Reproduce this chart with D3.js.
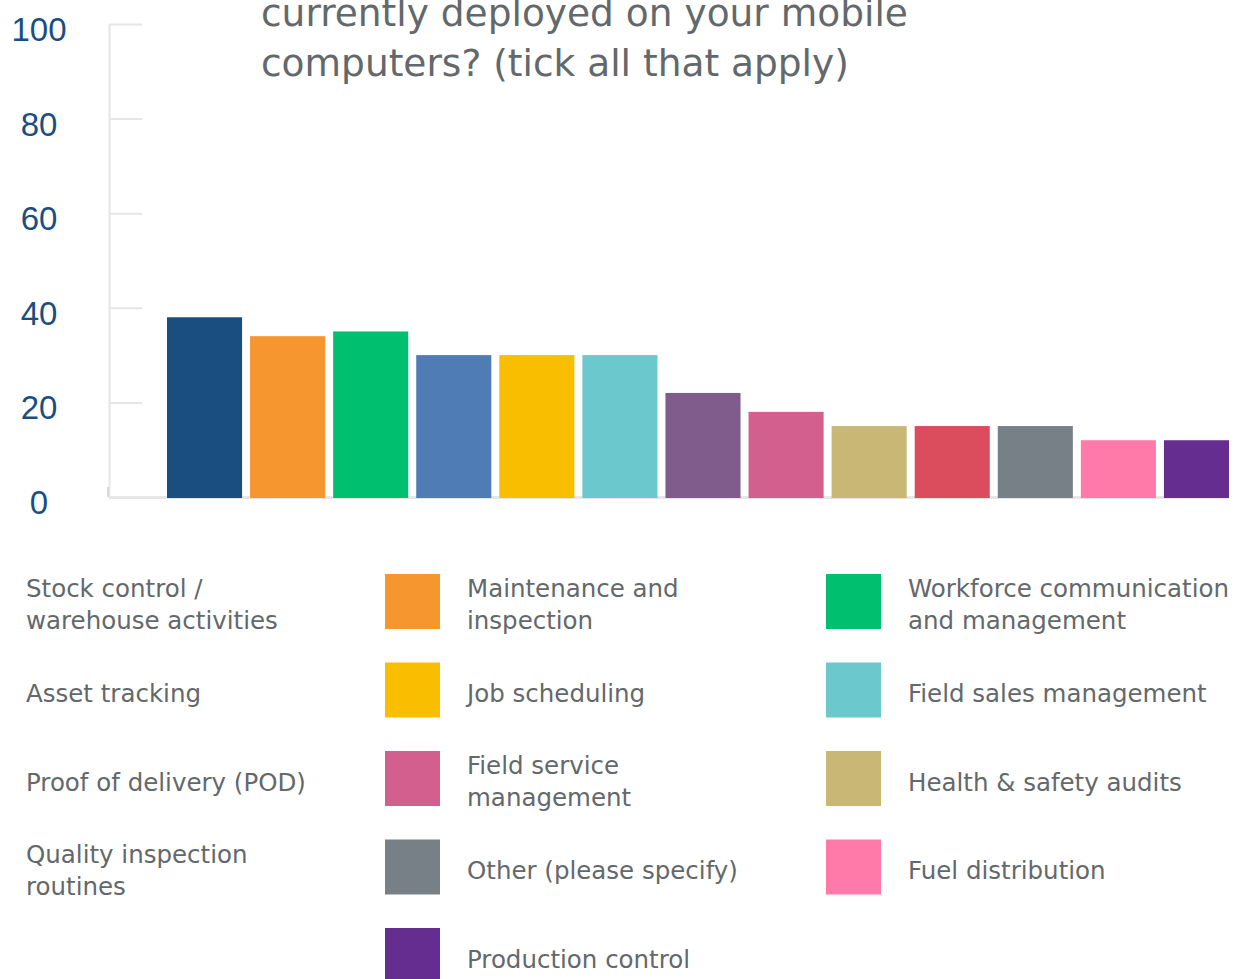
<!DOCTYPE html>
<html>
<head>
<meta charset="utf-8">
<script src="https://cdn.jsdelivr.net/npm/d3@7"></script>
<style>
  body { margin: 0; background: #fff; }
  svg { display: block; font-family: "DejaVu Sans", sans-serif; }
</style>
</head>
<body>
<svg id="chart" width="1259" height="979"></svg>
<script>
// values (percent of respondents)
const legendLabels = [
  ['Stock control /', 'warehouse activities'],
  ['Maintenance and', 'inspection'],
  ['Workforce communication', 'and management'],
  ['Asset tracking'],
  ['Job scheduling'],
  ['Field sales management'],
  ['Proof of delivery (POD)'],
  ['Field service', 'management'],
  ['Health & safety audits'],
  ['Quality inspection', 'routines'],
  ['Other (please specify)'],
  ['Fuel distribution'],
  ['Production control']
]
const categories = legendLabels.map(l => l.join(' '))
const values = [38, 34, 35, 30, 30, 30, 22, 18, 15, 15, 15, 12, 12]
const colors = ['#1a4e80', '#f5962f', '#00bf6f', '#507cb6', '#f9be00', '#6bc8cd',
  '#7f5c8c', '#d25f8e', '#c9b776', '#db4d5c', '#768086', '#ff7aa8', '#662d91']
const yTicks = [0, 20, 40, 60, 80, 100]
const titleLines = ['currently deployed on your mobile', 'computers? (tick all that apply)']

const svg = d3.select('#chart')

const axisX = 109
const plotRight = 1229

const y = d3.scaleLinear().domain([0, 100]).range([497, 24])
const x = d3.scaleBand()
  .domain(categories)
  .range([163, 1243])
  .paddingInner(8 / 83)
  .paddingOuter(4 / 83)

const color = d3.scaleOrdinal().domain(categories).range(colors)

// title (top of it is cut off in the source)
svg.append('g')
  .selectAll('text')
  .data(titleLines)
  .join('text')
  .attr('x', 261)
  .attr('y', (d, i) => 26 + i * 50)
  .style('font-size', '37.5px')
  .style('fill', '#63686b')
  .text(d => d)

// y axis: short ticks pointing into the plot, labels off to the left
const yAxis = svg.append('g')
  .attr('transform', `translate(${axisX},0)`)
  .call(d3.axisRight(y).tickValues(yTicks).tickSize(33).tickSizeOuter(0))

yAxis.select('.domain').attr('stroke', '#e6e6e6').attr('stroke-width', 2)
yAxis.selectAll('.tick line').attr('stroke', '#e6e6e6').attr('stroke-width', 2)
yAxis.selectAll('.tick text')
  .attr('x', 39 - axisX)
  .attr('dy', '0.5em')
  .attr('text-anchor', 'middle')
  .style('font-size', '33px')
  .style('fill', '#1a4e80')

svg.append('line')
  .attr('x1', axisX - 1).attr('x2', axisX - 1)
  .attr('y1', y(0) - 10).attr('y2', y(0))
  .attr('stroke', '#cfcfcf')
  .attr('stroke-width', 1.5)

// plot clip (last bar is cut in the source)
svg.append('clipPath')
  .attr('id', 'plot-clip')
  .append('rect')
  .attr('x', axisX)
  .attr('y', 0)
  .attr('width', plotRight - axisX)
  .attr('height', y(0) + 4)

const plot = svg.append('g').attr('clip-path', 'url(#plot-clip)')

plot.append('line')
  .attr('x1', axisX).attr('x2', plotRight)
  .attr('y1', y(0) + 0.5).attr('y2', y(0) + 0.5)
  .attr('stroke', '#e6e6e6')
  .attr('stroke-width', 3)

plot.selectAll('rect.bar')
  .data(categories)
  .join('rect')
  .attr('class', 'bar')
  .attr('x', d => x(d))
  .attr('y', (d, i) => y(values[i]))
  .attr('width', x.bandwidth())
  .attr('height', (d, i) => y(0) + 1 - y(values[i]))
  .style('fill', d => color(d))

// legend, 3 columns, last short row centred
const colX = [-56, 385, 826]
const rowTop = 574
const rowStep = 88.5
const swatch = 55
const nCols = colX.length
const nRows = Math.ceil(categories.length / nCols)

const legendPos = categories.map((d, i) => {
  const row = Math.floor(i / nCols)
  let col = i % nCols
  if (row === nRows - 1) {
    const inRow = categories.length - row * nCols
    col += Math.floor((nCols - inRow) / 2)
  }
  return { x: colX[col], y: rowTop + row * rowStep }
})

const legend = svg.append('g')
  .selectAll('g')
  .data(categories)
  .join('g')
  .attr('transform', (d, i) => `translate(${legendPos[i].x},${legendPos[i].y})`)

legend.append('rect')
  .attr('width', swatch)
  .attr('height', swatch)
  .style('fill', d => color(d))

legend.each(function (d, i) {
  const lines = legendLabels[i]
  const g = d3.select(this)
  const firstBase = lines.length === 1 ? 39.5 : 23
  g.selectAll('text')
    .data(lines)
    .join('text')
    .attr('x', 82)
    .attr('y', (t, j) => firstBase + j * 32)
    .style('font-size', '24.5px')
    .style('fill', '#63686b')
    .text(t => t)
})
</script>
</body>
</html>
